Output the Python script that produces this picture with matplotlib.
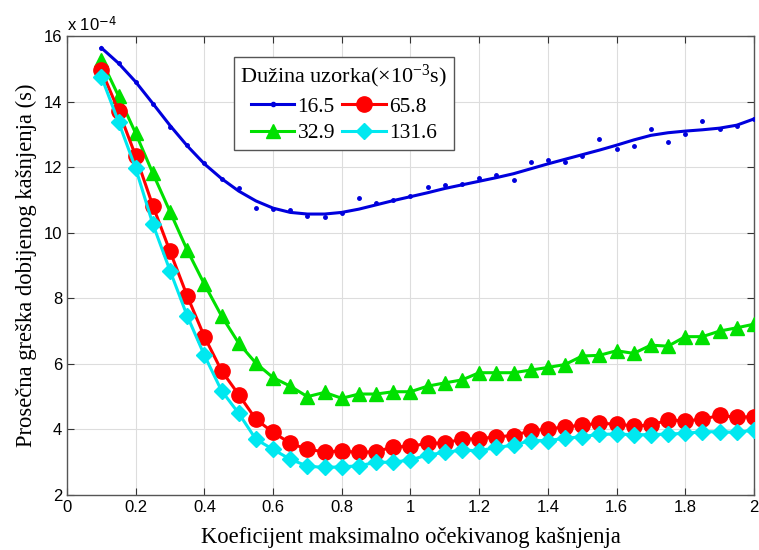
import matplotlib
matplotlib.use("Agg")
import matplotlib.pyplot as plt
import numpy as np

x_vals = [0.10, 0.15, 0.20, 0.25, 0.30, 0.35, 0.40, 0.45, 0.50, 0.55,
          0.60, 0.65, 0.70, 0.75, 0.80, 0.85, 0.90, 0.95, 1.00, 1.05,
          1.10, 1.15, 1.20, 1.25, 1.30, 1.35, 1.40, 1.45, 1.50, 1.55,
          1.60, 1.65, 1.70, 1.75, 1.80, 1.85, 1.90, 1.95, 2.00]

# values in units of 1e-4 s
blue_pts = [15.64, 15.17, 14.60, 13.94, 13.23, 12.67, 12.13, 11.65, 11.37, 10.76,
            10.71, 10.69, 10.52, 10.49, 10.60, 11.05, 10.91, 11.00, 11.13, 11.40,
            11.46, 11.48, 11.68, 11.76, 11.60, 12.16, 12.22, 12.17, 12.35, 12.87,
            12.54, 12.64, 13.16, 12.77, 13.01, 13.41, 13.15, 13.25, 13.47]
blue_fit = [15.64, 15.17, 14.60, 13.94, 13.27, 12.65, 12.10, 11.65, 11.27, 10.97,
            10.75, 10.62, 10.57, 10.57, 10.62, 10.72, 10.85, 10.98, 11.10, 11.22,
            11.35, 11.46, 11.57, 11.68, 11.80, 11.95, 12.10, 12.24, 12.38, 12.52,
            12.67, 12.83, 12.97, 13.05, 13.10, 13.14, 13.19, 13.28, 13.47]
green_vals = [15.27, 14.17, 13.03, 11.81, 10.64, 9.47, 8.43, 7.46, 6.63, 6.02,
              5.58, 5.32, 5.00, 5.13, 4.95, 5.08, 5.08, 5.15, 5.15, 5.32,
              5.42, 5.51, 5.73, 5.73, 5.73, 5.81, 5.89, 5.98, 6.24, 6.26,
              6.40, 6.32, 6.57, 6.54, 6.83, 6.83, 7.00, 7.10, 7.21]
red_vals = [14.96, 13.72, 12.34, 10.82, 9.43, 8.07, 6.83, 5.79, 5.06, 4.31,
            3.91, 3.58, 3.39, 3.32, 3.34, 3.30, 3.32, 3.47, 3.48, 3.58,
            3.58, 3.71, 3.71, 3.78, 3.81, 3.96, 4.01, 4.08, 4.13, 4.19,
            4.16, 4.11, 4.13, 4.29, 4.26, 4.31, 4.43, 4.37, 4.39]
cyan_vals = [14.76, 13.38, 11.96, 10.26, 8.84, 7.46, 6.26, 5.18, 4.49, 3.70,
             3.39, 3.09, 2.88, 2.84, 2.86, 2.89, 3.00, 3.00, 3.07, 3.22,
             3.30, 3.37, 3.35, 3.45, 3.52, 3.66, 3.66, 3.73, 3.78, 3.85,
             3.86, 3.84, 3.84, 3.86, 3.88, 3.93, 3.93, 3.91, 3.98]

labels = ["16.5", "32.9", "65.8", "131.6"]
x_ticks = [0, 0.2, 0.4, 0.6, 0.8, 1, 1.2, 1.4, 1.6, 1.8, 2]
y_ticks = [2, 4, 6, 8, 10, 12, 14, 16]

plt.rcParams["mathtext.fontset"] = "custom"
plt.rcParams["mathtext.rm"] = "Liberation Serif"
plt.rcParams["mathtext.it"] = "Liberation Serif:italic"

fig = plt.figure(figsize=(7.59, 5.5), dpi=100)
ax = fig.add_axes([0.0883, 0.10, 0.905, 0.8345])

c_blue = "#0000dd"
c_green = "#00e000"
c_red = "#ff0000"
c_cyan = "#00e8f0"

ax.plot(x_vals, blue_fit, color=c_blue, lw=2.2, zorder=3)
ax.plot(x_vals, blue_pts, linestyle="none", marker=".", ms=5, color=c_blue, zorder=3)
h_blue, = ax.plot([], [], color=c_blue, lw=2.2, marker=".", ms=6)
h_green, = ax.plot(x_vals, green_vals, color=c_green, lw=2.2, marker="^", ms=10, zorder=4)
h_red, = ax.plot(x_vals, red_vals, color=c_red, lw=2.2, marker="o", ms=11, zorder=5)
h_cyan, = ax.plot(x_vals, cyan_vals, color=c_cyan, lw=2.2, marker="D", ms=8.5, zorder=6)

ax.set_xlim(0, 2)
ax.set_ylim(2, 16)
ax.set_xticks(x_ticks)
ax.set_xticklabels([("%g" % t) for t in x_ticks])
ax.set_yticks(y_ticks)
ax.set_yticklabels([str(t) for t in y_ticks])
ax.tick_params(direction="in", labelsize=12, length=5, color="#333333",
               top=True, right=True)
for lab in ax.get_xticklabels() + ax.get_yticklabels():
    lab.set_family("Liberation Sans")
ax.grid(True, color="#dddddd", lw=0.8)
for s in ax.spines.values():
    s.set_color("#555555")
    s.set_linewidth(1.0)

ax.text(0.0, 1.005, "x 10$^{\\mathsf{-4}}$", transform=ax.transAxes, fontsize=12,
        family="Liberation Sans", ha="left", va="bottom")

ax.set_xlabel("Koeficijent maksimalno očekivanog kašnjenja",
              family="Liberation Serif", fontsize=16.3, labelpad=9)
ax.set_ylabel("Prosečna greška dobijenog kašnjenja (s)",
              family="Liberation Serif", fontsize=16.3, labelpad=5)

leg = ax.legend([h_blue, h_green, h_red, h_cyan], labels, ncol=2,
                title="Dužina uzorka(×10$^{-3}$s)",
                prop={"family": "Liberation Serif", "size": 15.5},
                loc="upper left", bbox_to_anchor=(0.243, 0.955),
                fancybox=False, edgecolor="#555555", framealpha=1,
                handlelength=2.0, columnspacing=0.35, handletextpad=0.15,
                labelspacing=0.3, borderpad=0.3, borderaxespad=0)
leg.get_title().set_family("Liberation Serif")
leg.get_title().set_fontsize(16)
leg.get_frame().set_linewidth(1.0)

fig.savefig("out.png", dpi=100)
